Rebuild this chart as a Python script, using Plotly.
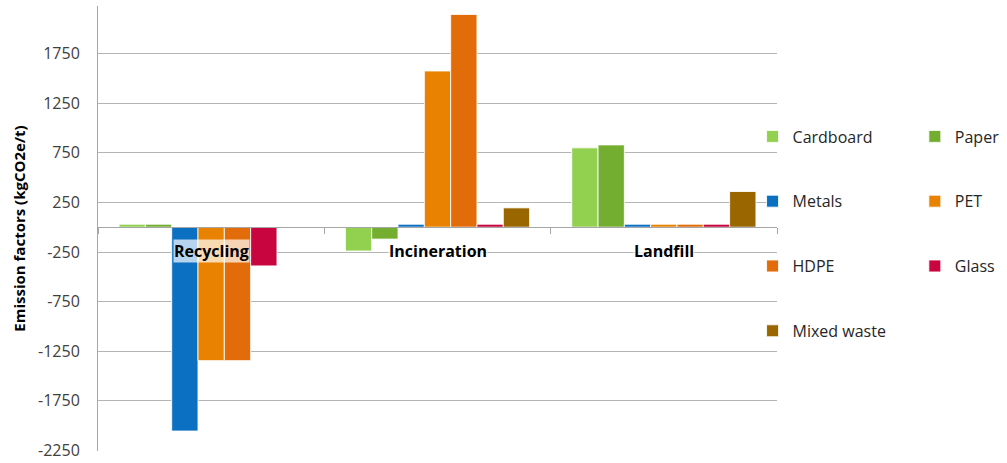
import plotly.graph_objects as go

# Waste treatment routes (x categories)
routes = ["Recycling", "Incineration", "Landfill"]

# Emission factors per material, kgCO2e per tonne, in route order
cardboard = [30, -240, 800]
paper = [30, -120, 830]
metals = [-2055, 30, 30]
pet = [-1345, 1575, 30]
hdpe = [-1345, 2145, 30]
glass = [-390, 30, 30]
mixed_waste = [0, 195, 360]

materials = ["Cardboard", "Paper", "Metals", "PET", "HDPE", "Glass", "Mixed waste"]
series = [cardboard, paper, metals, pet, hdpe, glass, mixed_waste]
colors = ["#92D050", "#74AE31", "#0B6FC2", "#E88200", "#E36C0A", "#C8053F", "#996600"]

# y axis ticks
y_ticks = [-2250, -1750, -1250, -750, -250, 250, 750, 1250, 1750]
y_min, y_max = -2256, 2230

FONT = "Open Sans"

# two-column legend: left column and right column
left_col = {"Cardboard", "Metals", "HDPE", "Mixed waste"}

fig = go.Figure()
for name, vals, col in zip(materials, series, colors):
    fig.add_trace(go.Bar(
        name=name,
        x=routes,
        y=vals,
        marker=dict(color=col, line=dict(color="rgba(255,255,255,0.85)", width=1)),
        legend="legend" if name in left_col else "legend2",
        legendgroup=name,
    ))

# the category axis crosses the value axis at zero
zero_pos = (0 - y_min) / (y_max - y_min)

legend_common = dict(
    font=dict(family=FONT, size=16, color="#262626"),
    bgcolor="rgba(0,0,0,0)",
    tracegroupgap=41,
    itemwidth=30,
    yanchor="top",
    xanchor="left",
    traceorder="grouped",
)

fig.update_layout(
    width=1007,
    height=463,
    margin=dict(l=98, r=230, t=6, b=12, autoexpand=False),
    paper_bgcolor="white",
    plot_bgcolor="white",
    barmode="group",
    bargap=0.186,
    bargroupgap=0,
    font=dict(family=FONT, size=16, color="#404040"),
    legend=dict(x=0.964, y=0.745, **legend_common),
    legend2=dict(x=1.203, y=0.745, **legend_common),
    xaxis=dict(
        anchor="free",
        position=zero_pos,
        showline=True,
        linecolor="#A6A6A6",
        linewidth=1,
        ticks="outside",
        tickson="boundaries",
        ticklen=6,
        tickcolor="#A6A6A6",
        showticklabels=False,
        showgrid=False,
        zeroline=False,
    ),
    yaxis=dict(
        range=[y_min, y_max],
        tickvals=y_ticks,
        ticktext=[str(v) for v in y_ticks],
        showgrid=True,
        gridcolor="#B5B5B5",
        gridwidth=1,
        zeroline=False,
        showline=True,
        linecolor="#A6A6A6",
        linewidth=1,
        ticks="",
        ticklabelstandoff=14,
        ticklabeloverflow="allow",
        tickfont=dict(family=FONT, size=16, color="#404040"),
        title=dict(
            text="<b>Emission factors (kgCO2e/t)</b>",
            font=dict(family=FONT, size=15, color="#000000"),
            standoff=8,
        ),
    ),
)

# route names sit just under the zero line
for r in routes:
    fig.add_annotation(
        x=r, y=0, xref="x", yref="y",
        text=f"<b>{r}</b>",
        showarrow=False,
        yanchor="middle",
        yshift=-24,
        font=dict(family=FONT, size=16, color="#000000"),
        bgcolor="rgba(255,255,255,0.7)",
        borderpad=0,
    )

fig.write_html("out.html")
